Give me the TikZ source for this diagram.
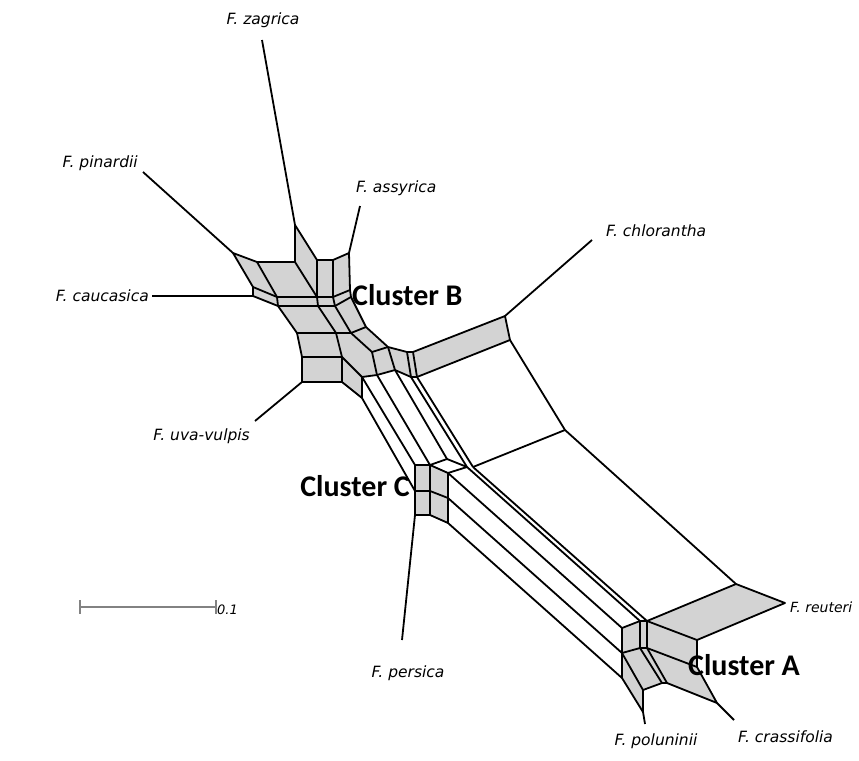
\documentclass[tikz,border=0pt]{standalone}
\usepackage{fontspec}
\newfontfamily\labfont{DejaVu Sans}
\newfontfamily\clfont{Carlito}
\definecolor{netgray}{RGB}{211,211,211}
\definecolor{bargray}{RGB}{130,130,130}
\begin{document}
\begin{tikzpicture}[x=1pt,y=-1pt,
  net/.style={line width=1.8pt,line join=round},
  area/.style={net,fill=netgray},
  leaf/.style={font=\labfont\itshape\fontsize{15.5}{17}\selectfont,inner sep=1pt},
  clus/.style={font=\clfont\bfseries\fontsize{30}{34}\selectfont,inner sep=0pt}]
\useasboundingbox (0,0) rectangle (859,760);
% ---------- long bundle between clusters ----------
\draw[net] (362,377) -- (415,465);
\draw[net] (362,398) -- (415,491);
\draw[net] (377,375) -- (430,465);
\draw[net] (395,370) -- (447,459);
\draw[net] (411,377) -- (467,467);
\draw[net] (417,377) -- (473,467);
\draw[net] (430,465) -- (447,459) -- (467,467);
\draw[net] (448,473) -- (467,467);
\draw[net] (448,473) -- (622,628);
\draw[net] (448,498) -- (622,653);
\draw[net] (448,523) -- (622,678);
\draw[net] (467,467) -- (640,621);
\draw[net] (473,467) -- (647,621);
% big white parallelograms
\draw[net] (510,340) -- (565,430);
\draw[net] (473,467) -- (565,430);
\draw[net] (565,430) -- (736,584);
% ---------- cluster B ----------
\draw[area] (233,253) -- (257,262) -- (295,262) -- (295,225) -- (317,260) -- (333,260)
  -- (349,253) -- (350,290) -- (351,297) -- (366,327) -- (388,347) -- (407,352)
  -- (413,352) -- (505,316) -- (510,340) -- (417,377) -- (411,377) -- (395,370)
  -- (377,375) -- (362,377) -- (362,398) -- (342,382) -- (302,382) -- (302,357)
  -- (297,333) -- (278,306) -- (253,296) -- (253,287) -- cycle;
\draw[net] (257,262) -- (277,297);
\draw[net] (295,262) -- (317,297);
\draw[net] (317,260) -- (317,297);
\draw[net] (333,260) -- (333,297);
\draw[net] (253,287) -- (277,297) -- (317,297) -- (333,297) -- (350,290);
\draw[net] (278,306) -- (318,306) -- (335,306) -- (351,297);
\draw[net] (277,297) -- (278,306);
\draw[net] (317,297) -- (318,306);
\draw[net] (333,297) -- (335,306);
\draw[net] (318,306) -- (336,333);
\draw[net] (335,306) -- (351,333);
\draw[net] (297,333) -- (336,333) -- (351,333) -- (366,327);
\draw[net] (336,333) -- (342,357);
\draw[net] (351,333) -- (372,352);
\draw[net] (302,357) -- (342,357) -- (342,382);
\draw[net] (342,357) -- (362,377);
\draw[net] (372,352) -- (388,347);
\draw[net] (372,352) -- (377,375);
\draw[net] (388,347) -- (395,370);
\draw[net] (407,352) -- (411,377);
\draw[net] (413,352) -- (417,377);
% ---------- cluster C ----------
\draw[area] (415,465) -- (430,465) -- (448,473) -- (448,523) -- (430,515) -- (415,515) -- cycle;
\draw[net] (430,465) -- (430,515);
\draw[net] (415,491) -- (430,491) -- (448,498);
% ---------- cluster A ----------
\draw[area] (622,628) -- (640,621) -- (647,621) -- (736,584) -- (785,603) -- (697,640)
  -- (697,667) -- (717,703) -- (667,683) -- (662,683) -- (643,690) -- (643,712)
  -- (622,678) -- cycle;
\draw[net] (622,653) -- (640,648) -- (647,648);
\draw[net] (640,621) -- (640,648);
\draw[net] (647,621) -- (647,648);
\draw[net] (647,621) -- (697,640);
\draw[net] (647,648) -- (697,667);
\draw[net] (640,648) -- (662,683);
\draw[net] (647,648) -- (667,683);
\draw[net] (622,653) -- (643,690);
% ---------- leaf edges and labels ----------
\node[leaf] (zag) at (263,20) {F. zagrica};
\node[leaf,anchor=east] (pin) at (139,163) {F. pinardii};
\node[leaf,anchor=west] (ass) at (355,188) {F. assyrica};
\node[leaf,anchor=east] (cau) at (150,296) {F. caucasica};
\node[leaf,anchor=west] (chl) at (605,231) {F. chlorantha};
\node[leaf,anchor=east] (uva) at (251,436) {F. uva-vulpis};
\node[leaf] (per) at (408,673) {F. persica};
\node[leaf,anchor=west,font=\labfont\itshape\fontsize{14}{16}\selectfont] (reu) at (789,607) {F. reuteri};
\node[leaf] (pol) at (656,741) {F. poluninii};
\node[leaf,anchor=west] (cra) at (737,737) {F. crassifolia};
\coordinate (zagE) at (262,40);
\coordinate (pinE) at (143,172);
\coordinate (assE) at (360,206);
\coordinate (cauE) at (152,296);
\coordinate (chlE) at (592,240);
\coordinate (uvaE) at (255,421);
\coordinate (perE) at (402,640);
\coordinate (polE) at (645,724);
\coordinate (craE) at (734,720);
\draw[net] (295,225) -- (zagE);
\draw[net] (233,253) -- (pinE);
\draw[net] (349,253) -- (assE);
\draw[net] (253,296) -- (cauE);
\draw[net] (505,316) -- (chlE);
\draw[net] (302,382) -- (uvaE);
\draw[net] (415,515) -- (perE);
\draw[net] (643,712) -- (polE);
\draw[net] (717,703) -- (craE);
% ---------- cluster labels ----------
\node[clus,anchor=west] (cB) at (352,295) {Cluster B};
\node[clus,anchor=east] (cC) at (410,486) {Cluster C};
\node[clus,anchor=west] (cA) at (688,665) {Cluster A};
% ---------- scale bar ----------
\coordinate (sb1) at (80,607);
\coordinate (sb2) at (216,607);
\draw[bargray,line width=1.6pt] (sb1) -- (sb2);
\draw[bargray,line width=1.6pt] (80,600) -- (80,614);
\draw[bargray,line width=1.6pt] (216,600) -- (216,614);
\node[leaf,anchor=west,font=\labfont\itshape\fontsize{13}{15}\selectfont] (sbl) at (216,610) {0.1};
\end{tikzpicture}
\end{document}
